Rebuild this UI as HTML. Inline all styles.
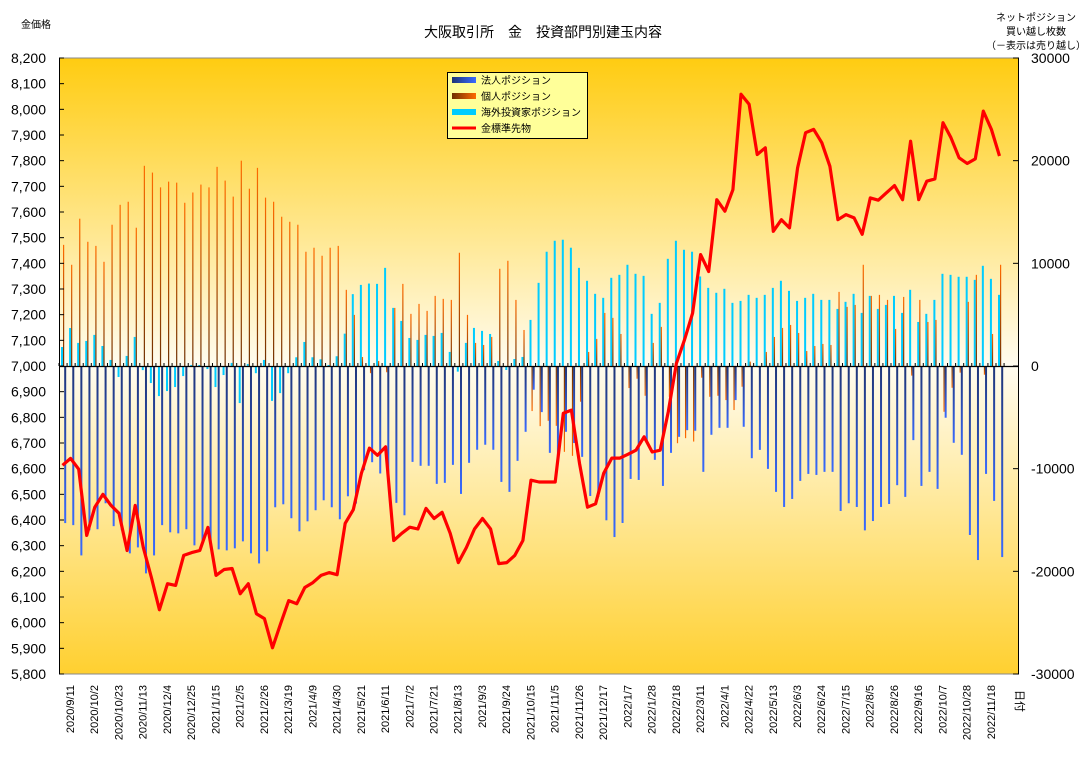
<!DOCTYPE html>
<html><head><meta charset="utf-8">
<style>
html,body{margin:0;padding:0;background:#fff;}
svg{display:block;font-family:"Liberation Sans","Noto Sans CJK JP",sans-serif;}
</style></head>
<body>
<svg id="chart" width="1086" height="758" viewBox="0 0 1086 758" xmlns="http://www.w3.org/2000/svg">
<defs>
<linearGradient id="bgGrad" x1="0" y1="0" x2="0" y2="1">
<stop offset="0" stop-color="#FFCC11"/><stop offset="0.5" stop-color="#FFFCF0"/><stop offset="1" stop-color="#FFD030"/>
</linearGradient>
<linearGradient id="blueDown" x1="0" y1="0" x2="0" y2="1"><stop offset="0" stop-color="#1F3577"/><stop offset="1" stop-color="#3A6BFF"/></linearGradient>
<linearGradient id="blueUp" x1="0" y1="1" x2="0" y2="0"><stop offset="0" stop-color="#1F3577"/><stop offset="1" stop-color="#3A6BFF"/></linearGradient>
<linearGradient id="orUp" x1="0" y1="1" x2="0" y2="0"><stop offset="0" stop-color="#6E3000"/><stop offset="1" stop-color="#FF6A00"/></linearGradient>
<linearGradient id="orDown" x1="0" y1="0" x2="0" y2="1"><stop offset="0" stop-color="#6E3000"/><stop offset="1" stop-color="#FF6A00"/></linearGradient>
<linearGradient id="legBlue" x1="0" y1="0" x2="1" y2="0"><stop offset="0" stop-color="#1F3577"/><stop offset="1" stop-color="#3A6BFF"/></linearGradient>
<linearGradient id="legOr" x1="0" y1="0" x2="1" y2="0"><stop offset="0" stop-color="#6E3000"/><stop offset="1" stop-color="#FF6A00"/></linearGradient>
</defs>
<rect x="59" y="58" width="960" height="616" fill="url(#bgGrad)"/>
<line x1="59" y1="58" x2="1019" y2="58" stroke="#888" stroke-width="1"/>
<g id="bars"></g>
<g id="zeroaxis"></g>
<polyline id="priceLine" fill="none" stroke="#FF0000" stroke-width="3.2" stroke-linejoin="round"/>
<line x1="59.5" y1="58" x2="59.5" y2="674" stroke="#000"/>
<line x1="1018.5" y1="58" x2="1018.5" y2="674" stroke="#000"/>
<line x1="59" y1="674" x2="1019" y2="674" stroke="#888"/>
<g id="leftTicks"></g>
<g id="rightTicks"></g>
<g id="xLabels"></g>
<text x="543" y="37" font-size="14" text-anchor="middle">大阪取引所　金　投資部門別建玉内容</text>
<text x="21" y="28" font-size="10">金価格</text>
<text x="1036" y="21" font-size="10" text-anchor="middle">ネットポジション</text>
<text x="1036" y="35" font-size="10" text-anchor="middle">買い越し枚数</text>
<text x="1036" y="49" font-size="10" text-anchor="middle">（－表示は売り越し）</text>
<text transform="translate(1016,690) rotate(90)" font-size="11">日付</text>
<g>
<rect x="447.5" y="72.5" width="140" height="66" fill="#FFFF99" stroke="#000"/>
<rect x="452" y="77" width="24" height="6" fill="url(#legBlue)"/>
<text x="481" y="84" font-size="10">法人ポジション</text>
<rect x="452" y="93" width="24" height="6" fill="url(#legOr)"/>
<text x="481" y="100" font-size="10">個人ポジション</text>
<rect x="452" y="109" width="24" height="6" fill="#00CCFF"/>
<text x="481" y="116" font-size="10">海外投資家ポジション</text>
<line x1="452" y1="128" x2="476" y2="128" stroke="#FF0000" stroke-width="3"/>
<text x="481" y="132" font-size="10">金標準先物</text>
</g>
</svg>
<script>
const xLabels = ["2020/9/11","2020/10/2","2020/10/23","2020/11/13","2020/12/4","2020/12/25","2021/1/15","2021/2/5","2021/2/26","2021/3/19","2021/4/9","2021/4/30","2021/5/21","2021/6/11","2021/7/2","2021/7/21","2021/8/13","2021/9/3","2021/9/24","2021/10/15","2021/11/5","2021/11/26","2021/12/17","2022/1/7","2022/1/28","2022/2/18","2022/3/11","2022/4/1","2022/4/22","2022/5/13","2022/6/3","2022/6/24","2022/7/15","2022/8/5","2022/8/26","2022/9/16","2022/10/7","2022/10/28","2022/11/18"];
const leftTickValues = [5800,5900,6000,6100,6200,6300,6400,6500,6600,6700,6800,6900,7000,7100,7200,7300,7400,7500,7600,7700,7800,7900,8000,8100,8200];
const rightTickValues = [-30000,-20000,-10000,0,10000,20000,30000];
const foreign = [1850,3700,2250,2440,3030,1950,590,-1070,980,2830,-400,-1660,-2930,-2440,-2050,-980,100,100,-300,-2050,
-880,300,-3610,200,-700,590,-3400,-2640,-700,850,2340,850,650,100,950,3150,7000,7900,8030,
8000,9560,5660,4390,2730,2540,3030,2930,3220,1370,-550,2250,3710,3420,3120,490,-390,680,880,4490,
8100,11130,12200,12300,11520,9560,8300,7030,6640,8590,8880,9860,8980,8780,5080,6150,10440,12200,11320,11130,
8720,7610,7130,7520,6150,6340,6930,6640,6930,7610,8300,7320,6340,6640,7030,6440,6440,5560,6250,7030,
5170,6830,5560,5950,6830,5170,7420,4290,5080,6440,8980,8880,8690,8690,8390,9760,8490,6930];
const individual = [11800,9860,14350,12100,11700,10150,13760,15700,16000,13470,19500,18840,17400,17960,17860,15900,16900,17670,17400,19400,
18060,16500,20000,17270,19300,16400,16000,14540,14050,13760,11130,11520,10740,11520,11700,7420,4980,880,-700,
490,-610,5660,8000,5080,6050,5370,6830,6540,6440,11030,4980,2250,2050,2830,9470,10250,6440,3510,-4390,
-5860,-5340,-5830,-8360,-8750,-3480,1370,2640,5170,4690,3120,-2150,-1240,-2900,2250,3810,-3000,-7520,-7030,-7360,
-1140,-3000,-2900,-3320,-4290,-2020,430,-130,1370,2830,3710,4000,3220,1460,1950,2150,2050,7220,5760,5950,
9860,6830,6930,6440,3610,6730,-940,6440,4290,4490,-4460,-2120,-650,6250,8880,-850,3120,9860];
const corporate = [-15300,-15500,-18450,-16000,-15900,-13370,-15600,-16000,-18250,-17670,-20200,-18450,-15500,-16200,-16300,-15900,-17470,-17180,-17670,-17860,
-17960,-17760,-17080,-18250,-19230,-18050,-13760,-13470,-14830,-16100,-15130,-14050,-13080,-13760,-14930,-12690,-13400,-10150,-9370,
-10470,-10960,-13330,-14540,-9340,-9720,-9720,-11480,-11380,-9630,-12460,-9430,-8160,-7670,-8160,-11290,-12260,-9240,-6410,-2310,
-4490,-8460,-9000,-6410,-7500,-8850,-12660,-12750,-15030,-16660,-15290,-11000,-11100,-7500,-9140,-11680,-8460,-6900,-6250,-6310,
-10310,-6700,-6020,-6020,-3320,-5920,-8980,-8170,-10020,-12260,-13730,-12950,-11190,-10510,-10610,-10310,-10310,-14120,-13370,-13730,
-16010,-15100,-13730,-13440,-11610,-12750,-7220,-11680,-10310,-11970,-5040,-7480,-8650,-16460,-18900,-10510,-13140,-18610];
const price = [6613,6640,6598,6340,6450,6500,6457,6426,6281,6457,6293,6176,6050,6152,6145,6262,6273,6281,6371,6184,
6207,6211,6113,6152,6035,6016,5902,5996,6086,6074,6137,6156,6184,6195,6187,6387,6440,6582,6680,
6652,6685,6320,6348,6372,6365,6445,6406,6430,6348,6234,6293,6365,6406,6365,6230,6234,6262,6320,6555,
6548,6548,6548,6816,6828,6621,6450,6463,6582,6641,6641,6656,6672,6724,6665,6672,6822,7010,7102,7206,
7434,7368,7648,7603,7687,8059,8020,7824,7850,7525,7570,7538,7772,7909,7922,7870,7778,7570,7590,7577,
7513,7655,7646,7675,7703,7648,7876,7648,7720,7729,7948,7889,7811,7789,7807,7993,7922,7818];

const NS = "http://www.w3.org/2000/svg";
const PLOT_TOP = 58, PLOT_BOT = 674;
function yPrice(p){ return PLOT_TOP + (8200 - p) / 2400 * (PLOT_BOT - PLOT_TOP); }
function yNet(v){ return (PLOT_TOP + PLOT_BOT) / 2 - v / 30000 * (PLOT_BOT - PLOT_TOP) / 2; }
const N = price.length;
function xGroup(i){ return 61 + i * (998 - 61) / (N - 1); }
const zeroY = yNet(0);

function mk(tag, attrs){ const e = document.createElementNS(NS, tag); for (const k in attrs) e.setAttribute(k, attrs[k]); return e; }
function barRect(x, w, v, fill){
  const y1 = yNet(v);
  const top = Math.min(y1, zeroY), h = Math.max(Math.abs(y1 - zeroY), 0.5);
  return mk('rect', {x: x, y: top, width: w, height: h, fill: fill});
}

const bars = document.getElementById('bars');
for (let i = 0; i < N; i++) {
  const c = xGroup(i);
  const rc = barRect(c, 2, foreign[i], '#00CCFF');
  
  
  bars.appendChild(rc);
  const ro = barRect(c + 2, 1.2, individual[i], individual[i] >= 0 ? 'url(#orUp)' : 'url(#orDown)');
  
  
  bars.appendChild(ro);
  const rb = barRect(c + 3.2, 2, corporate[i], corporate[i] >= 0 ? 'url(#blueUp)' : 'url(#blueDown)');
  
  
  bars.appendChild(rb);
}

const za = document.getElementById('zeroaxis');
const zl = mk('line', {x1: 59, y1: zeroY + 0.5, x2: 1019, y2: zeroY + 0.5, stroke: '#000', 'stroke-width': 1.2});


za.appendChild(zl);
for (let i = 0; i <= N; i++) {
  const tx = xGroup(i) - 2;
  const t = mk('line', {x1: tx, y1: zeroY - 3, x2: tx, y2: zeroY, stroke: '#000', 'stroke-width': 1});
  
  
  za.appendChild(t);
}

document.getElementById('priceLine').setAttribute('points', price.map((p, i) => (xGroup(i) + 1.5).toFixed(1) + ',' + yPrice(p).toFixed(1)).join(' '));

const lt = document.getElementById('leftTicks');
leftTickValues.forEach(v => {
  const y = yPrice(v);
  const t = mk('line', {x1: 59, y1: y, x2: 64, y2: y, stroke: '#000'});
  
  
  lt.appendChild(t);
  const tx = mk('text', {x: 46, y: y + 5, 'font-size': 14, 'text-anchor': 'end'});
  tx.textContent = v.toLocaleString('en-US');
  
  
  lt.appendChild(tx);
});
const rt = document.getElementById('rightTicks');
rightTickValues.forEach(v => {
  const y = yNet(v);
  const t = mk('line', {x1: 1013, y1: y, x2: 1019, y2: y, stroke: '#000'});
  
  
  rt.appendChild(t);
  const tx = mk('text', {x: 1031, y: y + 5, 'font-size': 14});
  tx.textContent = String(v);
  
  
  rt.appendChild(tx);
});
const xl = document.getElementById('xLabels');
xLabels.forEach((s, k) => {
  const x = xGroup(k * 3) + 13;
  const tx = mk('text', {transform: 'translate(' + x.toFixed(1) + ',685) rotate(-90)', 'font-size': 11, 'text-anchor': 'end'});
  tx.textContent = s;
  
  
  xl.appendChild(tx);
});
</script>
</body></html>
